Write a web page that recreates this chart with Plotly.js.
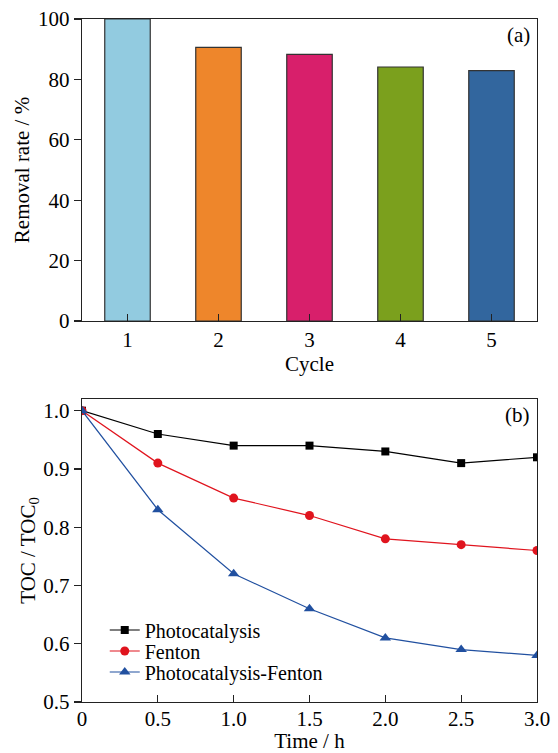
<!DOCTYPE html>
<html>
<head>
<meta charset="utf-8">
<script src="https://cdn.plot.ly/plotly-3.0.1.min.js"></script>
<style>html,body{margin:0;padding:0;background:#fff;}#chart{width:558px;height:753px;}</style>
</head>
<body>
<div id="chart"></div>
<script>
// Panel (a)
const cycles = [1, 2, 3, 4, 5];
const removalRate = [100, 90.6, 88.3, 84.1, 82.9];
const barColors = ['#92CBE0', '#EE862B', '#D81F6B', '#7BA01D', '#32669E'];

// Panel (b)
const timeH = [0, 0.5, 1.0, 1.5, 2.0, 2.5, 3.0];
const photocatalysis = [1.0, 0.96, 0.94, 0.94, 0.93, 0.91, 0.92];
const fenton = [1.0, 0.91, 0.85, 0.82, 0.78, 0.77, 0.76];
const photoFenton = [1.0, 0.83, 0.72, 0.66, 0.61, 0.59, 0.58];
const seriesNames = ['Photocatalysis', 'Fenton', 'Photocatalysis-Fenton'];

const xbTickVals = [0, 0.5, 1.0, 1.5, 2.0, 2.5, 3.0];
const xbTickText = ['0', '0.5', '1.0', '1.5', '2.0', '2.5', '3.0'];
const ybTickVals = [0.5, 0.6, 0.7, 0.8, 0.9, 1.0];
const ybTickText = ['0.5', '0.6', '0.7', '0.8', '0.9', '1.0'];

const FONT = 'Liberation Serif, Times New Roman, serif';
const FS = 21;
const LFS = 20;
const AX = '#222';

const traces = [
  {
    type: 'bar', x: cycles, y: removalRate, xaxis: 'x', yaxis: 'y',
    width: 0.5, showlegend: false,
    marker: {color: barColors, line: {color: '#333', width: 1.2}}
  },
  {
    type: 'scatter', mode: 'lines+markers', x: timeH, y: photocatalysis,
    xaxis: 'x2', yaxis: 'y2', name: seriesNames[0], legend: 'legend',
    line: {color: '#000000', width: 1.2},
    marker: {symbol: 'square', size: 8, color: '#000000'}
  },
  {
    type: 'scatter', mode: 'lines+markers', x: timeH, y: fenton,
    xaxis: 'x2', yaxis: 'y2', name: seriesNames[1], legend: 'legend2',
    line: {color: '#E0141E', width: 1.2},
    marker: {symbol: 'circle', size: 9, color: '#E0141E'}
  },
  {
    type: 'scatter', mode: 'lines+markers', x: timeH, y: photoFenton,
    xaxis: 'x2', yaxis: 'y2', name: seriesNames[2], legend: 'legend3',
    line: {color: '#2150A0', width: 1.2},
    marker: {symbol: 'triangle-up', size: 10, color: '#2150A0'}
  }
];

const axisCommon = {
  showline: true, linecolor: AX, linewidth: 1.2, mirror: true,
  showgrid: false, zeroline: false,
  tickfont: {family: FONT, size: FS, color: '#000'},
  tickcolor: AX, tickwidth: 1.2, ticklen: 7
};

const legendCommon = {
  x: 0.05, xanchor: 'left', yanchor: 'middle',
  bgcolor: 'rgba(0,0,0,0)', borderwidth: 0,
  font: {family: FONT, size: LFS, color: '#000'}
};

const layout = {
  width: 558, height: 753,
  margin: {l: 82, r: 21, t: 19, b: 51},
  paper_bgcolor: '#fff', plot_bgcolor: '#fff',
  font: {family: FONT, size: FS, color: '#000'},
  xaxis: Object.assign({}, axisCommon, {
    domain: [0, 1], anchor: 'y', range: [0.5, 5.5],
    tickvals: cycles, ticks: 'inside',
    title: {text: 'Cycle', font: {family: FONT, size: FS}, standoff: 4}
  }),
  yaxis: Object.assign({}, axisCommon, {
    domain: [0.5578, 1], anchor: 'x', range: [0, 100],
    tickvals: [0, 20, 40, 60, 80, 100], ticks: 'outside',
    title: {text: 'Removal rate / %', font: {family: FONT, size: FS}, standoff: 2}
  }),
  xaxis2: Object.assign({}, axisCommon, {
    domain: [0, 1], anchor: 'y2', range: [0, 3],
    tickvals: xbTickVals, ticktext: xbTickText, ticks: 'inside',
    ticklabelstandoff: -2,
    title: {text: 'Time / h', font: {family: FONT, size: FS}, standoff: 6}
  }),
  yaxis2: Object.assign({}, axisCommon, {
    domain: [0, 0.4436], anchor: 'x2', range: [0.5, 1.02],
    tickvals: ybTickVals, ticktext: ybTickText, ticks: 'outside',
    title: {text: 'TOC / TOC<sub>0</sub>', font: {family: FONT, size: FS}, standoff: 2}
  }),
  legend: Object.assign({}, legendCommon, {y: 0.1054}),
  legend2: Object.assign({}, legendCommon, {y: 0.0747}),
  legend3: Object.assign({}, legendCommon, {y: 0.0439}),
  showlegend: true,
  annotations: [
    {text: '(a)', xref: 'paper', yref: 'paper', x: 0.99, y: 0.997, xanchor: 'right', yanchor: 'top', showarrow: false, font: {family: FONT, size: FS}},
    {text: '(b)', xref: 'paper', yref: 'paper', x: 0.99, y: 0.441, xanchor: 'right', yanchor: 'top', showarrow: false, font: {family: FONT, size: FS}}
  ]
};

Plotly.newPlot('chart', traces, layout, {staticPlot: true, displayModeBar: false});
</script>
</body>
</html>
